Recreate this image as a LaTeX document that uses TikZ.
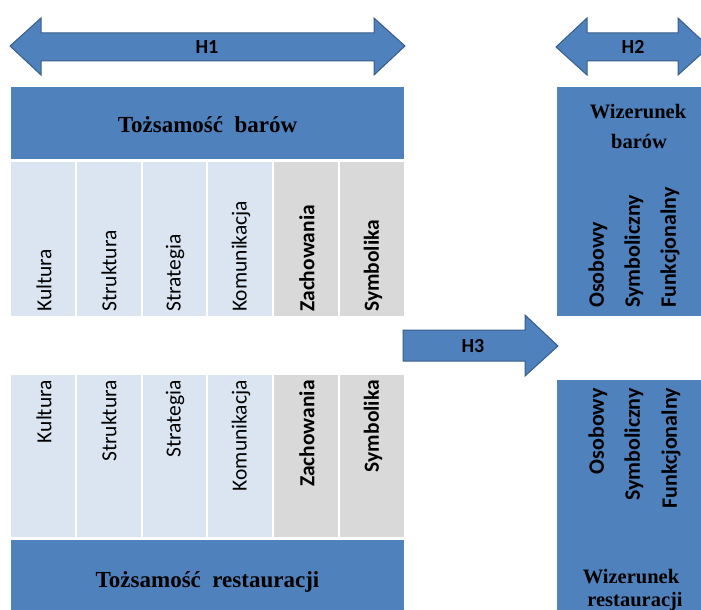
\documentclass[tikz,border=0pt]{standalone}
\usepackage{fontspec}
\setmainfont{Liberation Serif}
\setsansfont{Carlito}
\definecolor{obl}{HTML}{4F81BD}
\definecolor{obd}{HTML}{385D8A}
\definecolor{lbl}{HTML}{DBE5F1}
\definecolor{lgr}{HTML}{D9D9D9}
\begin{document}
\begin{tikzpicture}[x=1pt,y=-1pt,
  arr/.style={fill=obl,draw=obd,line width=1pt},
  blk/.style={fill=obl,draw=none},
  colb/.style={fill=lbl,draw=none},
  colg/.style={fill=lgr,draw=none},
  hlab/.style={font=\sffamily\bfseries\fontsize{20}{22}\selectfont,inner sep=0pt},
  ctxt/.style={font=\sffamily\fontsize{21.5}{24}\selectfont,rotate=90,inner sep=0pt},
  ctxb/.style={font=\sffamily\bfseries\fontsize{21.5}{24}\selectfont,rotate=90,inner sep=0pt},
  rtxt/.style={font=\sffamily\bfseries\fontsize{22}{24}\selectfont,rotate=90,inner sep=0pt},
  ttl/.style={font=\rmfamily\bfseries\fontsize{23}{26}\selectfont,inner sep=0pt,anchor=base},
  wz/.style={font=\rmfamily\bfseries\fontsize{20.5}{23}\selectfont,inner sep=0pt,anchor=base}]
\useasboundingbox (0,0) rectangle (701,610);
\clip (0,0) rectangle (701,610);
% arrows
\draw[arr] (10,46) -- (41,18) -- (41,33) -- (374,33) -- (374,18) -- (405,46) -- (374,75) -- (374,61) -- (41,61) -- (41,75) -- cycle;
\draw[arr] (556,47) -- (587,18) -- (587,33) -- (678,33) -- (678,18) -- (709,47) -- (678,75) -- (678,61) -- (587,61) -- (587,75) -- cycle;
\draw[arr] (403,330) -- (525,330) -- (525,315) -- (558,346) -- (525,376) -- (525,361) -- (403,361) -- cycle;
\node[hlab] (h1) at (207,47) {H1};
\node[hlab] (h2) at (633,47) {H2};
\node[hlab] (h3) at (473,346) {H3};
% top identity block
\fill[blk] (11,87) rectangle (404,159);
\node[ttl] (tb) at (207.5,132) {Tożsamość\ \ barów};
\fill[colb] (11,162) rectangle (75,316);
\fill[colb] (77,162) rectangle (141,316);
\fill[colb] (143,162) rectangle (206,316);
\fill[colb] (208,162) rectangle (272,316);
\fill[colg] (274,162) rectangle (338,316);
\fill[colg] (340,162) rectangle (404,316);
\node[ctxt,anchor=west] (u1) at (44,312) {Kultura};
\node[ctxt,anchor=west] (u2) at (109,312) {Struktura};
\node[ctxt,anchor=west] (u3) at (175,312) {Strategia};
\node[ctxt,anchor=west] (u4) at (241,312) {Komunikacja};
\node[ctxb,anchor=west] (u5) at (307,312) {Zachowania};
\node[ctxb,anchor=west] (u6) at (373,312) {Symbolika};
% bottom identity block
\fill[colb] (11,375) rectangle (75,537);
\fill[colb] (77,375) rectangle (141,537);
\fill[colb] (143,375) rectangle (206,537);
\fill[colb] (208,375) rectangle (272,537);
\fill[colg] (274,375) rectangle (338,537);
\fill[colg] (340,375) rectangle (404,537);
\node[ctxt,anchor=east] (l1) at (44,380) {Kultura};
\node[ctxt,anchor=east] (l2) at (109,380) {Struktura};
\node[ctxt,anchor=east] (l3) at (175,380) {Strategia};
\node[ctxt,anchor=east] (l4) at (241,380) {Komunikacja};
\node[ctxb,anchor=east] (l5) at (307,380) {Zachowania};
\node[ctxb,anchor=east] (l6) at (373,380) {Symbolika};
\fill[blk] (11,540) rectangle (404,620);
\node[ttl] (tr) at (207.5,587) {Tożsamość\ \ restauracji};
% right image blocks
\fill[blk] (557,87) rectangle (720,316);
\node[wz] (wb1) at (638,118) {Wizerunek};
\node[wz] (wb2) at (639,148) {barów};
\node[rtxt,anchor=west] (r1) at (598,308) {Osobowy};
\node[rtxt,anchor=west] (r2) at (634,308) {Symboliczny};
\node[rtxt,anchor=west] (r3) at (670,308) {Funkcjonalny};
\fill[blk] (557,380) rectangle (720,620);
\node[rtxt,anchor=east] (s1) at (598,388) {Osobowy};
\node[rtxt,anchor=east] (s2) at (634,388) {Symboliczny};
\node[rtxt,anchor=east] (s3) at (671,388) {Funkcjonalny};
\node[wz] (wr1) at (631,583) {Wizerunek};
\node[wz] (wr2) at (635,606) {restauracji};
\end{tikzpicture}
\end{document}
